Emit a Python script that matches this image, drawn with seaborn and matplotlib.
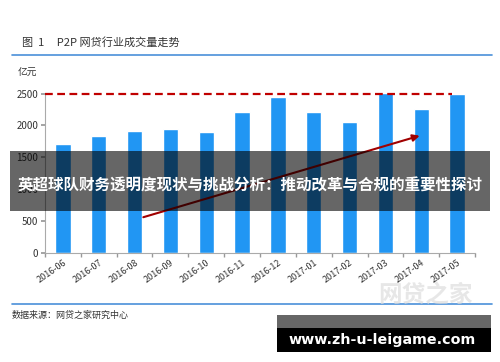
import matplotlib
matplotlib.use("Agg")
import matplotlib.pyplot as plt
import numpy as np
import pandas as pd
import seaborn as sns
from matplotlib.patches import Rectangle

# data
months = ["2016-06", "2016-07", "2016-08", "2016-09", "2016-10", "2016-11",
          "2016-12", "2017-01", "2017-02", "2017-03", "2017-04", "2017-05"]
volume = [1715, 1830, 1910, 1950, 1890, 2205, 2445, 2215, 2050, 2510, 2250, 2495]
y_ticks = [0, 500, 1000, 1500, 2000, 2500]
cap_line = 2500
arrow_start = (2.17, 545)
arrow_end = (10.03, 1850)

sns.set_theme(style="white")
plt.rcParams['font.family'] = ['Noto Sans CJK SC', 'DejaVu Sans']

df = pd.DataFrame({"month": months, "volume": volume})

fig = plt.figure(figsize=(5, 3.62), dpi=100)
ax = fig.add_axes([0.09, 0.302, 0.86, 0.443])

sns.barplot(data=df, x="month", y="volume", color="#2196F3", saturation=1,
            width=0.43, ax=ax)

ax.set_xlim(-0.5, 11.5)
ax.set_ylim(0, 2520)
ax.set_yticks(y_ticks)
ax.set_yticklabels([str(t) for t in y_ticks], fontsize=7, color="#333333")
ax.set_xticks(range(len(months)))
ax.set_xticklabels(months, rotation=35, ha="right", rotation_mode="anchor",
                   fontsize=6.5, color="#333333")
ax.set_xticks(np.arange(-0.5, 12, 1), minor=True)
ax.tick_params(axis="x", which="major", length=0, pad=4)
ax.tick_params(axis="x", which="minor", length=3, color="#999999", bottom=True)
ax.tick_params(axis="y", length=3, color="#999999", left=True, pad=2)
ax.set_xlabel("")
ax.set_ylabel("")
for s in ["top", "right"]:
    ax.spines[s].set_visible(False)
for s in ["left", "bottom"]:
    ax.spines[s].set_color("#aaaaaa")
    ax.spines[s].set_linewidth(0.8)
ax.spines["left"].set_bounds(0, 2500)

ax.hlines(cap_line, -0.5, 10.85, colors="#C00000", linestyles=(0, (3.5, 2)),
          linewidth=1.6, zorder=5)
ax.annotate("", xy=arrow_end, xytext=arrow_start,
            arrowprops=dict(arrowstyle="-|>", color="#A00000", lw=1.5,
                            mutation_scale=10), zorder=6)

# header / footer
fig.text(0.044, 0.883, "图  1     P2P 网贷行业成交量走势", fontsize=8, color="#333333",
         va="center")
fig.add_artist(plt.Line2D([0.024, 0.984], [0.848, 0.848], color="#4A90D9", lw=1.2))
fig.text(0.036, 0.8, "亿元", fontsize=7, color="#333333", va="center")
fig.add_artist(plt.Line2D([0.024, 0.984], [0.16, 0.16], color="#4A90D9", lw=1.2))
fig.text(0.024, 0.13, "数据来源：网贷之家研究中心", fontsize=6.5, color="#333333",
         va="center")

# watermark
fig.text(0.85, 0.185, "网贷之家", fontsize=17, color="#dddddd", alpha=0.7,
         ha="center", va="center", fontweight="bold")

# overlay banner
fig.add_artist(Rectangle((0.02, 0.418), 0.96, 0.165, transform=fig.transFigure,
                         facecolor="black", alpha=0.6, edgecolor="none", zorder=10))
fig.text(0.5, 0.488, "英超球队财务透明度现状与挑战分析：推动改革与合规的重要性探讨",
         fontsize=11.2, color="white", fontweight="bold", ha="center",
         va="center", zorder=11)

fig.add_artist(Rectangle((0.554, 0.094), 0.428, 0.036, transform=fig.transFigure,
                         facecolor="black", alpha=0.6, edgecolor="none", zorder=10))
fig.add_artist(Rectangle((0.554, 0.028), 0.428, 0.066, transform=fig.transFigure,
                         facecolor="black", edgecolor="none", zorder=10))
fig.text(0.765, 0.062, "www.zh-u-leigame.com", fontsize=10.3, color="white",
         fontweight="bold", ha="center", va="center", zorder=11,
         family=["DejaVu Sans"])

fig.savefig("out.png", dpi=100)
